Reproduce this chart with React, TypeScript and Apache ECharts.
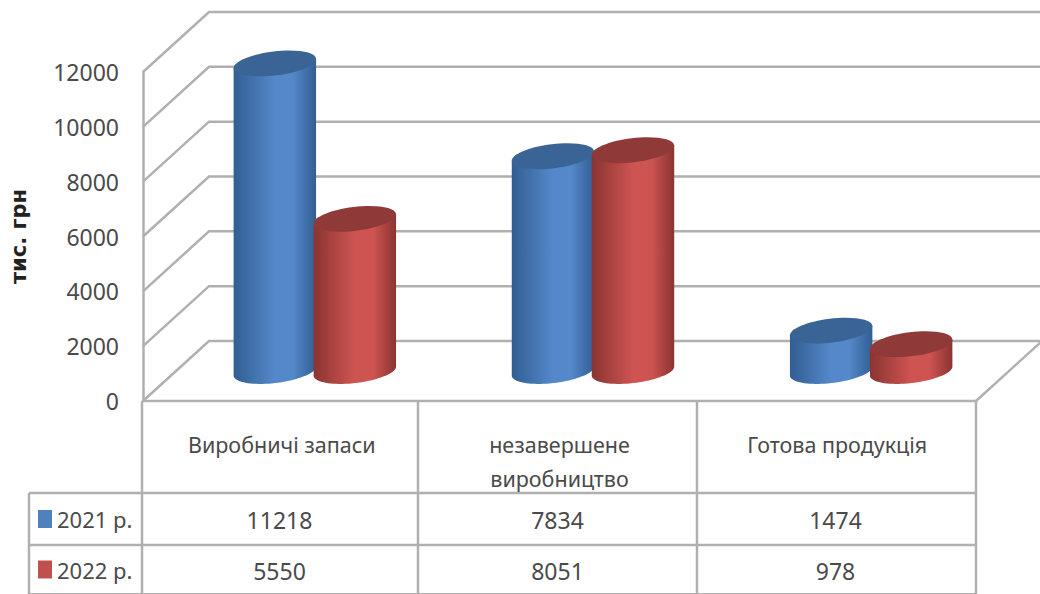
import React, { useEffect, useRef } from "react";
import * as echarts from "echarts";

// Inventory structure, thousand UAH
const categories = ["Виробничі запаси", "незавершене\nвиробництво", "Готова продукція"];
const values2021 = [11218, 7834, 1474];
const values2022 = [5550, 8051, 978];
const yearLabels = ["2021 р.", "2022 р."];
const axisTicks = [0, 2000, 4000, 6000, 8000, 10000, 12000];

const FONT = "'Noto Sans', sans-serif";
const TEXT = "#4a4a4a";
const LINE = "#b0b0b0";
const LEFT = 142;
const RIGHT = 976;
const TOP = 72;
const ZERO = 401;
const DEPTH_X = 66;
const DEPTH_Y = -60;
const RX = 41.5;
const RY = 12;
const TILT = -0.12;
const SHIFT = 40;

type Palette = { edge: string; mid: string; top: string };
const BLUE: Palette = { edge: "#315e92", mid: "#5488ca", top: "#3a6496" };
const RED: Palette = { edge: "#8a3432", mid: "#ce5451", top: "#8f3a38" };

// Point on the tilted base ellipse of a cylinder
function rim(cx: number, cy: number, t: number): number[] {
  const c = Math.cos(t);
  const s = Math.sin(t);
  return [
    cx + RX * c * Math.cos(TILT) - RY * s * Math.sin(TILT),
    cy + RX * c * Math.sin(TILT) + RY * s * Math.cos(TILT),
  ];
}

function cylinder(palette: Palette, side: number) {
  return (params: any, api: any) => {
    const index = api.value(0);
    const [bx, by] = api.coord([index, 0]);
    const [, ty] = api.coord([index, api.value(1)]);
    const cx = bx + DEPTH_X / 2 + side * SHIFT + index * 0.5;
    const baseY = by + DEPTH_Y / 2;
    const topY = ty + DEPTH_Y / 2;
    const t0 = Math.atan2(-RY * Math.sin(TILT), RX * Math.cos(TILT));
    const outline: number[][] = [];
    for (let i = 0; i <= 40; i++) outline.push(rim(cx, baseY, t0 + (Math.PI * i) / 40));
    outline.push(rim(cx, topY, t0 + Math.PI), rim(cx, topY, t0));
    return {
      type: "group",
      children: [
        {
          type: "polygon",
          shape: { points: outline },
          style: {
            fill: new echarts.graphic.LinearGradient(0, 0, 1, 0, [
              { offset: 0, color: palette.edge },
              { offset: 0.5, color: palette.mid },
              { offset: 0.72, color: palette.mid },
              { offset: 1, color: palette.edge },
            ]),
          },
        },
        {
          type: "ellipse",
          x: cx,
          y: topY,
          rotation: -TILT,
          shape: { cx: 0, cy: 0, rx: RX, ry: RY },
          style: { fill: palette.top },
        },
      ],
    };
  };
}

// Side wall and back wall rules for one tick of the value axis
function wallRule(params: any, api: any) {
  const y = api.coord([0, api.value(0)])[1];
  const sys = params.coordSys;
  return {
    type: "polyline",
    shape: {
      points: [
        [sys.x, y],
        [sys.x + DEPTH_X, y + DEPTH_Y],
        [sys.x + sys.width + DEPTH_X, y + DEPTH_Y],
      ],
    },
    style: { stroke: LINE, lineWidth: 2.5, fill: "none" },
  };
}

function tableGraphics() {
  const elements: any[] = [];
  const line = (x1: number, y1: number, x2: number, y2: number, lineWidth = 2.5) =>
    elements.push({
      type: "line",
      shape: { x1, y1, x2, y2 },
      style: { stroke: LINE, lineWidth },
    });
  const band = (RIGHT - LEFT) / 3;
  const rows = [493, 545, 594];
  line(RIGHT, ZERO, RIGHT + DEPTH_X, ZERO + DEPTH_Y);
  line(LEFT, ZERO, RIGHT, ZERO);
  line(29, rows[0], RIGHT, rows[0]);
  line(29, rows[1], RIGHT, rows[1]);
  line(29, rows[2], RIGHT, rows[2], 2);
  line(29, rows[0], 29, 594);
  line(LEFT, ZERO, LEFT, 594);
  line(LEFT + band - 2, ZERO, LEFT + band - 2, 594);
  line(LEFT + 2 * band - 1, ZERO, LEFT + 2 * band - 1, 594);
  line(RIGHT, ZERO, RIGHT, 594);
  [values2021, values2022].forEach((vals, r) => {
    const cy = (rows[r] + rows[r + 1]) / 2 + 1;
    elements.push({
      type: "rect",
      shape: { x: 38, y: cy - 10, width: 14, height: 18 },
      style: { fill: r === 0 ? "#4f81bd" : "#c0504d" },
    });
    elements.push({
      type: "text",
      x: 57,
      y: cy - 1,
      style: { text: yearLabels[r], font: `22px ${FONT}`, fill: TEXT, textVerticalAlign: "middle" },
    });
    vals.forEach((v, c) => {
      elements.push({
        type: "text",
        x: LEFT + band * (c + 0.5) - 1.5,
        y: cy,
        style: {
          text: String(v),
          font: `23px ${FONT}`,
          fill: TEXT,
          textAlign: "center",
          textVerticalAlign: "middle",
        },
      });
    });
  });
  return elements;
}

export default function App() {
  const ref = useRef<HTMLDivElement>(null);

  useEffect(() => {
    const chart = echarts.init(ref.current!, undefined, { renderer: "svg" });
    chart.setOption({
      animation: false,
      backgroundColor: "#ffffff",
      grid: { left: LEFT, top: TOP, width: RIGHT - LEFT, height: ZERO - TOP, containLabel: false },
      xAxis: {
        type: "category",
        data: categories,
        axisLine: { show: false },
        axisTick: { show: false },
        splitLine: { show: false },
        axisLabel: {
          interval: 0,
          margin: 26,
          fontFamily: FONT,
          fontSize: 21.5,
          lineHeight: 34,
          color: TEXT,
          verticalAlign: "top",
        },
      },
      yAxis: {
        type: "value",
        min: 0,
        max: 12000,
        interval: 2000,
        name: "тис. грн",
        nameLocation: "middle",
        nameGap: 114,
        nameTextStyle: {
          fontFamily: "'DejaVu Sans', sans-serif",
          fontSize: 21,
          fontWeight: "bold",
          color: "#222222",
        },
        axisLine: { show: true, lineStyle: { color: LINE, width: 2.5 } },
        axisTick: { show: false },
        splitLine: { show: false },
        axisLabel: {
          margin: 24,
          fontFamily: FONT,
          fontSize: 23,
          color: TEXT,
          formatter: (v: number) => String(v),
        },
      },
      series: [
        {
          type: "custom",
          name: "rules",
          silent: true,
          data: axisTicks.map((t) => [t]),
          encode: { y: 0 },
          renderItem: wallRule,
        },
        {
          type: "custom",
          name: yearLabels[0],
          data: values2021.map((v, i) => [i, v]),
          encode: { x: 0, y: 1 },
          renderItem: cylinder(BLUE, -1),
        },
        {
          type: "custom",
          name: yearLabels[1],
          data: values2022.map((v, i) => [i, v]),
          encode: { x: 0, y: 1 },
          renderItem: cylinder(RED, 1),
        },
      ],
      graphic: { elements: tableGraphics() },
    });
    return () => chart.dispose();
  }, []);

  return <div ref={ref} style={{ position: "fixed", left: 0, top: 0, width: 1040, height: 594 }} />;
}
